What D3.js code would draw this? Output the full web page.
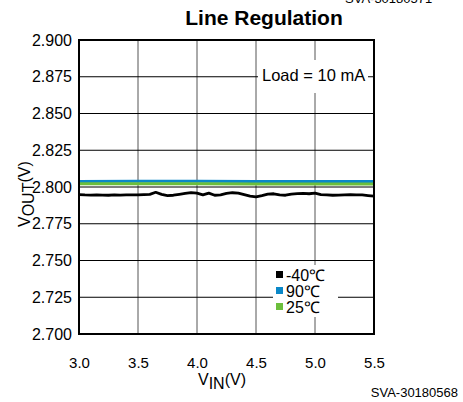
<!DOCTYPE html>
<html>
<head>
<meta charset="utf-8">
<script src="https://cdn.jsdelivr.net/npm/d3@7"></script>
<style>
  body { margin: 0; background: #fff; }
  svg { display: block; font-family: "Liberation Sans", Arial, sans-serif; }
</style>
</head>
<body>
<div id="chart"></div>
<script>
// Data
const vin = [3.00, 3.05, 3.10, 3.15, 3.20, 3.25, 3.30, 3.35, 3.40, 3.45,
  3.50, 3.55, 3.60, 3.65, 3.70, 3.75, 3.80, 3.85, 3.90, 3.95,
  4.00, 4.05, 4.10, 4.15, 4.20, 4.25, 4.30, 4.35, 4.40, 4.45,
  4.50, 4.55, 4.60, 4.65, 4.70, 4.75, 4.80, 4.85, 4.90, 4.95,
  5.00, 5.05, 5.10, 5.15, 5.20, 5.25, 5.30, 5.35, 5.40, 5.45, 5.50];

const voutM40 = [2.7948, 2.7946, 2.7945, 2.7946, 2.7945, 2.7944, 2.7946, 2.7945, 2.7946, 2.7947,
  2.7946, 2.7948, 2.7950, 2.7964, 2.7950, 2.7942, 2.7944, 2.7950, 2.7956, 2.7962,
  2.7958, 2.7946, 2.7958, 2.7944, 2.7946, 2.7956, 2.7961, 2.7958, 2.7948, 2.7938,
  2.7933, 2.7942, 2.7952, 2.7954, 2.7946, 2.7944, 2.7952, 2.7955, 2.7956, 2.7954,
  2.7958, 2.7948, 2.7946, 2.7944, 2.7945, 2.7947, 2.7948, 2.7947, 2.7946, 2.7942, 2.7938];

const vin90 = [3.0, 3.5, 4.0, 4.5, 5.0, 5.5];
const vout90 = [2.8038, 2.8039, 2.8039, 2.8038, 2.8038, 2.8038];
const vin25 = [3.0, 3.5, 4.0, 4.5, 5.0, 5.5];
const vout25 = [2.8022, 2.8022, 2.8022, 2.8021, 2.8021, 2.8021];

const xTicks = [3.0, 3.5, 4.0, 4.5, 5.0, 5.5];
const yTicks = [2.700, 2.725, 2.750, 2.775, 2.800, 2.825, 2.850, 2.875, 2.900];

const legendLabels = ["-40\u2103", "90\u2103", "25\u2103"];
const legendColors = ["#000000", "#0a88c8", "#6cbf3c"];

const width = 463, height = 402;
const margin = { left: 79, right: 89, top: 40, bottom: 68 };
const ctrWidth = width - margin.left - margin.right;   // 295
const ctrHeight = height - margin.top - margin.bottom; // 294

const svg = d3.select("#chart").append("svg")
  .attr("width", width).attr("height", height);

// top-right clipped figure id
svg.append("text")
  .attr("x", 345).attr("y", 3)
  .style("font-size", "13px")
  .text("SVA-30180571");

// title
svg.append("text")
  .attr("x", 264).attr("y", 25)
  .attr("text-anchor", "middle")
  .style("font-size", "21px").style("font-weight", "bold")
  .text("Line Regulation");

const ctr = svg.append("g")
  .attr("transform", `translate(${margin.left},${margin.top})`);

const xScale = d3.scaleLinear().domain([3.0, 5.5]).range([0, ctrWidth]);
const yScale = d3.scaleLinear().domain([2.7, 2.9]).range([ctrHeight, 0]);

// grid
ctr.append("g").selectAll("line").data(xTicks).join("line")
  .attr("x1", d => xScale(d)).attr("x2", d => xScale(d))
  .attr("y1", 0).attr("y2", ctrHeight)
  .attr("stroke", "#555").attr("stroke-width", 1);

ctr.append("g").selectAll("line").data(yTicks).join("line")
  .attr("x1", 0).attr("x2", ctrWidth)
  .attr("y1", d => yScale(d)).attr("y2", d => yScale(d))
  .attr("stroke", "#000").attr("stroke-width", 1);

// axes labels via d3 axes, lines hidden
const xAxis = d3.axisBottom(xScale).tickValues(xTicks).tickFormat(d3.format(".1f")).tickSize(0).tickPadding(23);
const xAxisGroup = ctr.append("g").attr("transform", `translate(0,${ctrHeight})`).call(xAxis);
xAxisGroup.select(".domain").remove();
xAxisGroup.selectAll("text").style("font-size", "15px").style("font-family", "Liberation Sans, Arial, sans-serif").attr("fill", "#000");

const yAxis = d3.axisLeft(yScale).tickValues(yTicks).tickFormat(d3.format(".3f")).tickSize(0).tickPadding(7);
const yAxisGroup = ctr.append("g").call(yAxis);
yAxisGroup.select(".domain").remove();
yAxisGroup.selectAll("text").style("font-size", "16px").style("font-family", "Liberation Sans, Arial, sans-serif").attr("fill", "#000");

// white boxes behind annotations
ctr.append("rect")
  .attr("x", 258 - margin.left).attr("y", 60 - margin.top)
  .attr("width", 110).attr("height", 33)
  .attr("fill", "#fff");
ctr.append("rect")
  .attr("x", 273 - margin.left).attr("y", 265 - margin.top)
  .attr("width", 65).attr("height", 52)
  .attr("fill", "#fff");

// lines
const line = d3.line().x(d => xScale(d[0])).y(d => yScale(d[1]));

ctr.append("path")
  .datum(d3.zip(vin90, vout90))
  .attr("d", line).attr("fill", "none")
  .attr("stroke", legendColors[1]).attr("stroke-width", 3);

ctr.append("path")
  .datum(d3.zip(vin25, vout25))
  .attr("d", line).attr("fill", "none")
  .attr("stroke", legendColors[2]).attr("stroke-width", 3);

ctr.append("path")
  .datum(d3.zip(vin, voutM40))
  .attr("d", line).attr("fill", "none")
  .attr("stroke", legendColors[0]).attr("stroke-width", 2.8)
  .attr("stroke-linejoin", "round");

// frame
ctr.append("rect")
  .attr("width", ctrWidth).attr("height", ctrHeight)
  .attr("fill", "none").attr("stroke", "#000").attr("stroke-width", 2);

// load annotation
ctr.append("text")
  .attr("x", 262 - margin.left).attr("y", 81 - margin.top)
  .style("font-size", "16.5px")
  .text("Load = 10 mA");

// legend
const legend = ctr.append("g")
  .attr("transform", `translate(${276 - margin.left},${275 - margin.top})`);
const items = legend.selectAll("g").data(legendLabels).join("g")
  .attr("transform", (d, i) => `translate(0,${i * 16})`);
items.append("rect")
  .attr("x", 0).attr("y", -4).attr("width", 7).attr("height", 7)
  .attr("fill", (d, i) => legendColors[i]);
items.append("text")
  .attr("x", 10).attr("y", 5.5)
  .style("font-size", "16px")
  .text(d => d);

// axis titles
const xTitle = svg.append("text")
  .attr("x", 198).attr("y", 385)
  .style("font-size", "16px");
xTitle.append("tspan").text("V");
xTitle.append("tspan").attr("dy", 4).text("IN");
xTitle.append("tspan").attr("dy", -4).text("(V)");

const yTitle = svg.append("text")
  .attr("transform", "translate(30,227) rotate(-90)")
  .style("font-size", "16px");
yTitle.append("tspan").text("V");
yTitle.append("tspan").attr("dy", 4).text("OUT");
yTitle.append("tspan").attr("dy", -4).text("(V)");

// bottom figure id
svg.append("text")
  .attr("x", 458).attr("y", 397)
  .attr("text-anchor", "end")
  .style("font-size", "13px")
  .text("SVA-30180568");
</script>
</body>
</html>
